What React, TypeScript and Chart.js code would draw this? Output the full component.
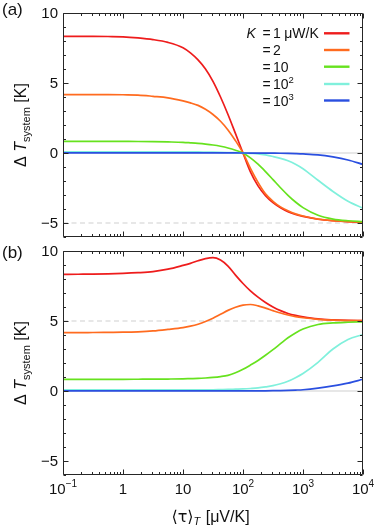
import React, { useEffect, useRef } from 'react';
import { Chart, registerables } from 'chart.js';

Chart.register(...registerables);

const FONT = '"Liberation Sans", Arial, Helvetica, sans-serif';

// x values: <tau>_T in uV/K
const TAU = [0.1, 0.178, 0.316, 0.562, 1, 1.78, 3.16, 5.62, 10, 13.3, 17.8, 23.7, 31.6, 42.2, 56.2, 75, 100, 133, 178, 237, 316, 422, 562, 750, 1000, 1780, 3160, 5620, 10000];

// Panel (a)
const RED_A = [8.33, 8.33, 8.33, 8.32, 8.3, 8.22, 8.1, 7.9, 7.52, 7.15, 6.65, 6.0, 5.12, 4.0, 2.75, 1.38, 0, -1.35, -2.35, -3.05, -3.55, -3.92, -4.2, -4.39, -4.53, -4.73, -4.84, -4.91, -4.95];
const ORANGE_A = [4.17, 4.17, 4.17, 4.17, 4.16, 4.14, 4.05, 3.94, 3.72, 3.58, 3.4, 3.12, 2.75, 2.27, 1.65, 0.88, 0, -1.1, -2.1, -2.92, -3.45, -3.85, -4.13, -4.35, -4.5, -4.72, -4.84, -4.9, -4.94];
const GREEN_A = [0.833, 0.833, 0.83, 0.83, 0.825, 0.82, 0.81, 0.79, 0.76, 0.725, 0.685, 0.635, 0.57, 0.48, 0.36, 0.2, 0, -0.35, -0.8, -1.33, -1.9, -2.48, -3.02, -3.5, -3.9, -4.45, -4.72, -4.84, -4.9];
const CYAN_A = [0.083, 0.083, 0.083, 0.083, 0.083, 0.083, 0.083, 0.083, 0.08, 0.078, 0.075, 0.068, 0.06, 0.05, 0.037, 0.02, 0, -0.025, -0.06, -0.14, -0.25, -0.38, -0.55, -0.8, -1.12, -1.95, -2.75, -3.45, -3.95];
const BLUE_A = [0.008, 0.008, 0.008, 0.008, 0.008, 0.008, 0.008, 0.008, 0.008, 0.008, 0.008, 0.008, 0.008, 0.007, 0.005, 0.003, 0, -0.003, -0.005, -0.008, -0.012, -0.018, -0.03, -0.045, -0.065, -0.13, -0.28, -0.5, -0.81];

// Panel (b)
const RED_B = [8.33, 8.34, 8.35, 8.37, 8.4, 8.45, 8.53, 8.7, 8.97, 9.12, 9.3, 9.45, 9.52, 9.35, 8.92, 8.28, 7.68, 7.15, 6.7, 6.32, 6.0, 5.74, 5.54, 5.4, 5.3, 5.15, 5.08, 5.04, 5.02];
const ORANGE_B = [4.17, 4.17, 4.18, 4.19, 4.2, 4.23, 4.29, 4.4, 4.53, 4.63, 4.77, 4.96, 5.2, 5.48, 5.76, 5.98, 6.14, 6.18, 6.08, 5.92, 5.74, 5.57, 5.43, 5.31, 5.23, 5.12, 5.06, 5.03, 5.02];
const GREEN_B = [0.833, 0.833, 0.833, 0.833, 0.835, 0.84, 0.845, 0.855, 0.87, 0.885, 0.9, 0.93, 0.97, 1.03, 1.12, 1.3, 1.55, 1.85, 2.18, 2.55, 2.95, 3.38, 3.8, 4.15, 4.43, 4.75, 4.86, 4.91, 4.94];
const CYAN_B = [0.083, 0.083, 0.083, 0.083, 0.083, 0.083, 0.083, 0.083, 0.084, 0.085, 0.086, 0.088, 0.09, 0.1, 0.11, 0.13, 0.15, 0.18, 0.22, 0.29, 0.38, 0.52, 0.7, 0.95, 1.25, 2.05, 3.0, 3.68, 4.03];
const BLUE_B = [0.008, 0.008, 0.008, 0.008, 0.008, 0.008, 0.008, 0.008, 0.008, 0.008, 0.008, 0.008, 0.008, 0.008, 0.008, 0.008, 0.008, 0.009, 0.01, 0.014, 0.02, 0.03, 0.045, 0.065, 0.09, 0.2, 0.36, 0.56, 0.84];

// Reference lines
const REF_X = [0.1, 10000];
const ZERO_LINE = [0, 0];
const ASYM_A = [-5, -5];
const ASYM_B = [5, 5];

// Axes
const X_MIN = 0.1;
const X_MAX = 10000;
const Y_MIN = -6;
const Y_MAX = 10;
const Y_TICKS = [-5, 0, 5, 10];
const Y_TICK_LABELS = ['\u22125', '0', '5', '10'];
const X_TICKS = [0.1, 1, 10, 100, 1000, 10000];
const X_TICK_BASE = ['10', '1', '10', '10', '10', '10'];
const X_TICK_EXP = ['\u22121', '', '', '2', '3', '4'];

// Legend
const LEGEND_NUM = ['1', '2', '10', '10', '10'];
const LEGEND_EXP = ['', '', '', '2', '3'];
const LEGEND_UNIT = ['\u03bcW/K', '', '', '', ''];
const COLORS = ['#ee1c1c', '#ff6b1f', '#66e21e', '#80f0dc', '#2a4fe0'];

const pts = (xs: number[], ys: number[]) => xs.map((x, i) => ({ x, y: ys[i] }));

function drawFrame(chart: any, panel: 'a' | 'b') {
  const { ctx, chartArea: a, scales } = chart;
  const xs = scales.x;
  const ys = scales.y;
  ctx.save();
  ctx.strokeStyle = '#262626';
  ctx.lineWidth = 1;
  const L = Math.round(a.left) + 0.5;
  const R = Math.round(a.right) - 0.5;
  const T = Math.round(a.top) + 0.5;
  const B = Math.round(a.bottom) - 0.5;
  ctx.beginPath();
  ctx.rect(L, T, R - L, B - T);
  ctx.stroke();
  ctx.beginPath();
  for (let v = Y_MIN; v <= Y_MAX; v++) {
    const py = Math.round(ys.getPixelForValue(v)) + 0.5;
    const len = v % 5 === 0 ? 5 : 2.5;
    ctx.moveTo(L, py); ctx.lineTo(L + len, py);
    ctx.moveTo(R, py); ctx.lineTo(R - len, py);
  }
  for (let d = -1; d <= 4; d++) {
    for (let k = 1; k <= 9; k++) {
      const val = k * Math.pow(10, d);
      if (val > X_MAX * 1.001) break;
      const px = Math.round(xs.getPixelForValue(val)) + 0.5;
      const len = k === 1 ? 5 : 2.5;
      ctx.moveTo(px, B); ctx.lineTo(px, B - len);
      ctx.moveTo(px, T); ctx.lineTo(px, T + len);
    }
  }
  ctx.stroke();

  // y tick labels
  ctx.fillStyle = '#111';
  ctx.font = `15px ${FONT}`;
  ctx.textAlign = 'right';
  ctx.textBaseline = 'middle';
  Y_TICKS.forEach((v, i) => {
    ctx.fillText(Y_TICK_LABELS[i], a.left - 5, ys.getPixelForValue(v) + 0.5);
  });

  // y title
  const cy = (a.top + a.bottom) / 2;
  ctx.save();
  ctx.translate(26, cy);
  ctx.rotate(-Math.PI / 2);
  ctx.textAlign = 'left';
  ctx.textBaseline = 'alphabetic';
  const f1 = `16px ${FONT}`;
  const fi = `italic 16px ${FONT}`;
  const fs = `11px ${FONT}`;
  ctx.font = f1; const w1 = ctx.measureText('\u0394 ').width;
  ctx.font = fi; const w2 = ctx.measureText('T').width;
  ctx.font = fs; const w3 = ctx.measureText('system').width;
  ctx.font = f1; const w4 = ctx.measureText(' [K]').width;
  let sx = -(w1 + w2 + w3 + w4) / 2;
  ctx.font = f1; ctx.fillText('\u0394 ', sx, 0); sx += w1;
  ctx.font = fi; ctx.fillText('T', sx, 0); sx += w2;
  ctx.font = fs; ctx.fillText('system', sx, 3.5); sx += w3;
  ctx.font = f1; ctx.fillText(' [K]', sx, 0);
  ctx.restore();

  // panel label
  ctx.font = `17px ${FONT}`;
  ctx.textAlign = 'left';
  ctx.textBaseline = 'middle';
  ctx.fillText(panel === 'a' ? '(a)' : '(b)', 2, panel === 'a' ? 10 : 253);

  if (panel === 'b') {
    // x tick labels
    ctx.textBaseline = 'alphabetic';
    X_TICKS.forEach((v, i) => {
      const px = xs.getPixelForValue(v);
      ctx.font = `15px ${FONT}`;
      const wb = ctx.measureText(X_TICK_BASE[i]).width;
      ctx.font = `10px ${FONT}`;
      const we = X_TICK_EXP[i] ? ctx.measureText(X_TICK_EXP[i]).width : 0;
      const x0 = px - (wb + we) / 2;
      ctx.font = `15px ${FONT}`;
      ctx.textAlign = 'left';
      ctx.fillText(X_TICK_BASE[i], x0, 494);
      if (X_TICK_EXP[i]) {
        ctx.font = `10px ${FONT}`;
        ctx.fillText(X_TICK_EXP[i], x0 + wb, 487);
      }
    });
    // x title
    const g1 = `16px "DejaVu Sans", ${FONT}`;
    const gs = `italic 11px ${FONT}`;
    const g2 = `16px ${FONT}`;
    ctx.font = g1; const a1 = ctx.measureText('\u27e8\u03c4\u27e9').width;
    ctx.font = gs; const a2 = ctx.measureText('T').width;
    ctx.font = g2; const a3 = ctx.measureText(' [\u03bcV/K]').width;
    let tx = 210 - (a1 + a2 + a3) / 2;
    ctx.font = g1; ctx.fillText('\u27e8\u03c4\u27e9', tx, 522); tx += a1;
    ctx.font = gs; ctx.fillText('T', tx, 525); tx += a2 + 1;
    ctx.font = g2; ctx.fillText(' [\u03bcV/K]', tx, 522);
  } else {
    // legend
    const rows = [33.3, 50, 66.7, 84, 100.5];
    rows.forEach((ry, i) => {
      ctx.textAlign = 'left';
      ctx.textBaseline = 'alphabetic';
      const base = ry + 5;
      if (i === 0) {
        ctx.font = `italic 14px ${FONT}`;
        ctx.fillText('K', 246.5, base);
      }
      ctx.font = `14px ${FONT}`;
      ctx.fillText('=', 262.5, base);
      ctx.fillText(LEGEND_NUM[i], 273, base);
      const wn = ctx.measureText(LEGEND_NUM[i]).width;
      if (LEGEND_EXP[i]) {
        ctx.font = `9.5px ${FONT}`;
        ctx.fillText(LEGEND_EXP[i], 273 + wn, base - 6);
      }
      if (LEGEND_UNIT[i]) {
        ctx.font = `14px ${FONT}`;
        ctx.fillText(LEGEND_UNIT[i], 273 + wn + 3.5, base);
      }
      ctx.strokeStyle = COLORS[i];
      ctx.lineWidth = 2.4;
      ctx.beginPath();
      ctx.moveTo(324, ry);
      ctx.lineTo(349.5, ry);
      ctx.stroke();
    });
  }
  ctx.restore();
}

function makeChart(canvas: HTMLCanvasElement, panel: 'a' | 'b') {
  const series = panel === 'a'
    ? [RED_A, ORANGE_A, GREEN_A, CYAN_A, BLUE_A]
    : [RED_B, ORANGE_B, GREEN_B, CYAN_B, BLUE_B];
  const datasets: any[] = series.map((s, i) => ({
    data: pts(TAU, s),
    borderColor: COLORS[i],
    borderWidth: 1.7,
    pointRadius: 0,
    fill: false,
    cubicInterpolationMode: 'monotone',
    order: 5 - i,
  }));
  datasets.push({
    data: pts(REF_X, ZERO_LINE),
    borderColor: '#cfcfcf',
    borderWidth: 1.2,
    pointRadius: 0,
    order: 20,
  });
  datasets.push({
    data: pts(REF_X, panel === 'a' ? ASYM_A : ASYM_B),
    borderColor: '#cfcfcf',
    borderWidth: 1.2,
    borderDash: [5, 3.5],
    pointRadius: 0,
    order: 21,
  });
  const padding = panel === 'a'
    ? { left: 63, right: 11, top: 13, bottom: 528 - 237 }
    : { left: 63, right: 11, top: 251, bottom: 528 - 475 };
  return new Chart(canvas, {
    type: 'line',
    data: { datasets },
    options: {
      animation: false,
      responsive: false,
      devicePixelRatio: 1,
      layout: { padding },
      parsing: false as any,
      scales: {
        x: { type: 'logarithmic', min: X_MIN, max: X_MAX, display: false },
        y: { type: 'linear', min: Y_MIN, max: Y_MAX, display: false },
      },
      plugins: { legend: { display: false }, tooltip: { enabled: false } },
    },
    plugins: [{ id: 'frame' + panel, afterDatasetsDraw: (c: any) => drawFrame(c, panel) }],
  } as any);
}

export default function App() {
  const refA = useRef<HTMLCanvasElement>(null);
  const refB = useRef<HTMLCanvasElement>(null);
  useEffect(() => {
    const ca = makeChart(refA.current!, 'a');
    const cb = makeChart(refB.current!, 'b');
    return () => { ca.destroy(); cb.destroy(); };
  }, []);
  const st: React.CSSProperties = { position: 'absolute', left: 0, top: 0, width: 374, height: 528 };
  return (
    <div style={{ position: 'absolute', left: 0, top: 0, width: 374, height: 528, background: '#fff' }}>
      <canvas ref={refA} width={374} height={528} style={st} />
      <canvas ref={refB} width={374} height={528} style={st} />
    </div>
  );
}
